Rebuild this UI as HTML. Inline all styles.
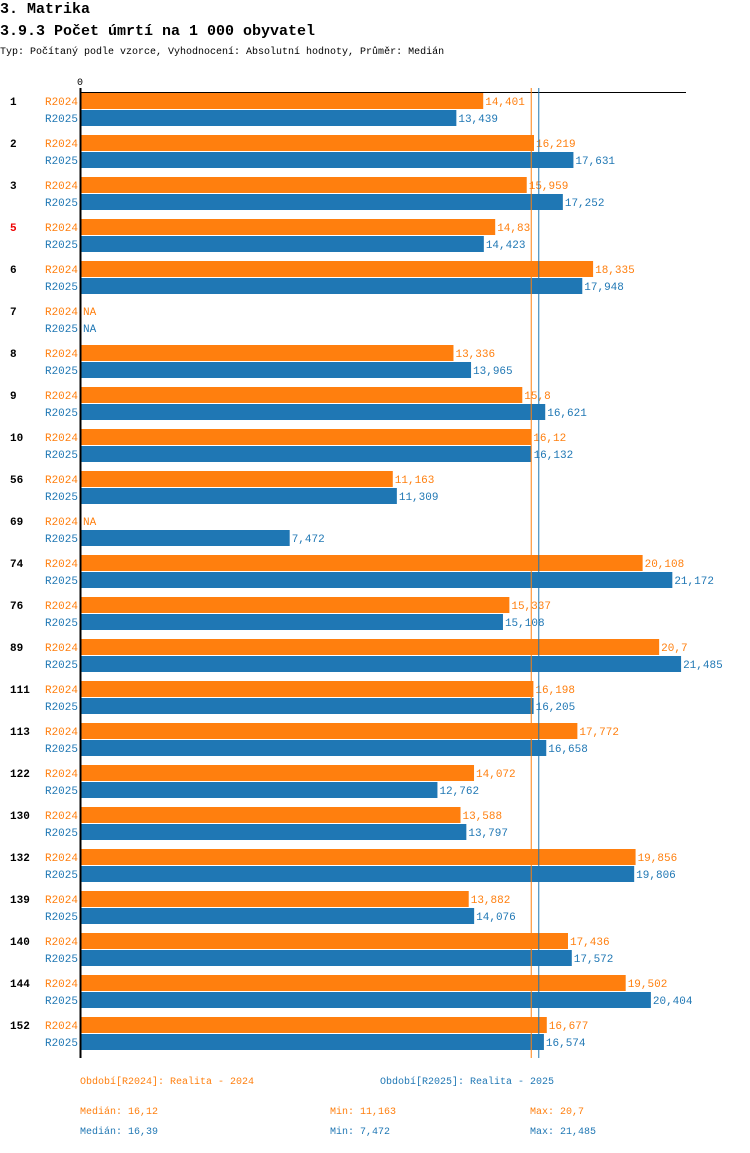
<!DOCTYPE html>
<html><head><meta charset="utf-8"><style>
body{margin:0;background:#fff;}
svg text{font-family:"Liberation Mono",monospace;font-size:11px;}
</style></head><body>
<svg id="chart" width="750" height="1148" xmlns="http://www.w3.org/2000/svg">
<text x="0" y="13" style="font-size:15px;font-weight:bold">3. Matrika</text>
<text x="0" y="35" style="font-size:15px;font-weight:bold">3.9.3 Počet úmrtí na 1 000 obyvatel</text>
<text x="0" y="54" style="font-size:10px">Typ: Počítaný podle vzorce, Vyhodnocení: Absolutní hodnoty, Průměr: Medián</text>
<text x="77" y="85" style="font-size:10px">0</text>
<g id="bars"></g>
<line x1="80" y1="92.5" x2="686" y2="92.5" stroke="#000" stroke-width="1"/>
<line x1="80.5" y1="88" x2="80.5" y2="1058" stroke="#000" stroke-width="2"/>
<g id="medians"></g>
<text x="80" y="1084" fill="#ff7f0e" style="font-size:10px">Období[R2024]: Realita - 2024</text>
<text x="380" y="1084" fill="#1f77b4" style="font-size:10px">Období[R2025]: Realita - 2025</text>
<text x="80" y="1114" fill="#ff7f0e" style="font-size:10px">Medián: 16,12</text>
<text x="330" y="1114" fill="#ff7f0e" style="font-size:10px">Min: 11,163</text>
<text x="530" y="1114" fill="#ff7f0e" style="font-size:10px">Max: 20,7</text>
<text x="80" y="1134" fill="#1f77b4" style="font-size:10px">Medián: 16,39</text>
<text x="330" y="1134" fill="#1f77b4" style="font-size:10px">Min: 7,472</text>
<text x="530" y="1134" fill="#1f77b4" style="font-size:10px">Max: 21,485</text>
</svg>
<script>
const categories=["1","2","3","5","6","7","8","9","10","56","69","74","76","89","111","113","122","130","132","139","140","144","152"];
const r2024=[14.401,16.219,15.959,14.83,18.335,null,13.336,15.8,16.12,11.163,null,20.108,15.337,20.7,16.198,17.772,14.072,13.588,19.856,13.882,17.436,19.502,16.677];
const r2025=[13.439,17.631,17.252,14.423,17.948,null,13.965,16.621,16.132,11.309,7.472,21.172,15.108,21.485,16.205,16.658,12.762,13.797,19.806,14.076,17.572,20.404,16.574];
const medians=[16.12,16.39];
const highlighted=["5"];
const NS="http://www.w3.org/2000/svg";
const x=v=>81+v*27.93;
const fmt=v=>String(v).replace('.',',');
const g=document.getElementById('bars');
function mk(tag,attrs,txt){const e=document.createElementNS(NS,tag);for(const k in attrs)e.setAttribute(k,attrs[k]);if(txt!==undefined)e.textContent=txt;return e;}
const series=[[r2024,"#ff7f0e","R2024"],[r2025,"#1f77b4","R2025"]];
categories.forEach((c,i)=>{
  const y0=93+42*i;
  const t=mk('text',{x:10,y:y0+12,'font-weight':'bold',fill:highlighted.includes(c)?'#e00':'#000'},c);
  
  
  g.appendChild(t);
  series.forEach((s,j)=>{
    const y=y0+17*j, v=s[0][i];
    const l=mk('text',{x:78,y:y+12,'text-anchor':'end',fill:s[1],'font-size':'10'},s[2]);
    
    
    g.appendChild(l);
    if(v!==null){
      const r=mk('rect',{x:81,y:y,width:x(v)-81,height:16,fill:s[1]});
      
      
      g.appendChild(r);
    }
    const vt=mk('text',{x:(v===null?81:x(v))+2,y:y+12,fill:s[1],'font-size':'10'},v===null?'NA':fmt(v));
    
    
    g.appendChild(vt);
  });
});
const m=document.getElementById('medians');
medians.forEach((v,j)=>{
  const ln=mk('line',{x1:x(v),x2:x(v),y1:88,y2:1058,stroke:series[j][1],'stroke-width':1});
  
  
  m.appendChild(ln);
});
</script>
</body></html>
